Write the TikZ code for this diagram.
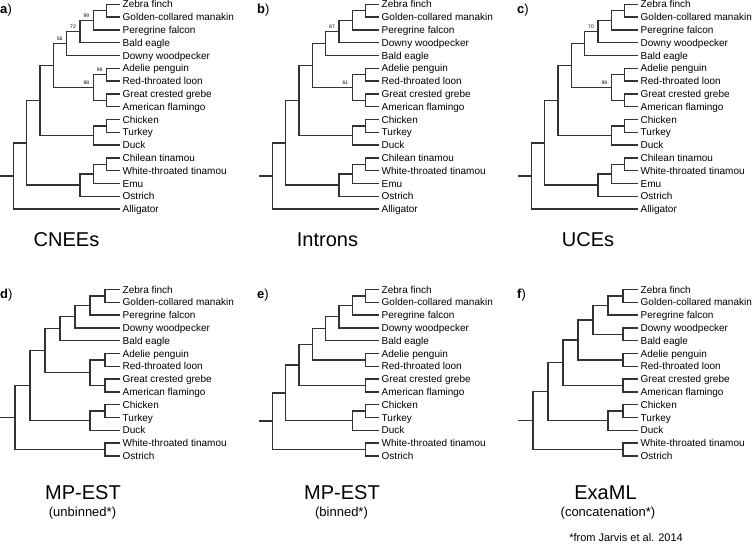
\documentclass[tikz,border=0pt]{standalone}
\usepackage{fontspec}
\setmainfont{Liberation Sans}
\usetikzlibrary{calc}

\tikzset{
  branch/.style={line width=1.4pt, draw=black!80},
  leaf/.style={anchor=west, inner xsep=2.5pt, inner ysep=0pt, text height=7pt, text depth=0pt, font=\fontsize{10}{12}\selectfont},
  boot/.style={anchor=south east, inner sep=0.5pt, font=\fontsize{5}{6}\selectfont},
  plabel/.style={anchor=west, inner sep=0pt, font=\fontsize{13}{15}\selectfont},
  title/.style={inner sep=0pt, font=\fontsize{20}{24}\selectfont},
  subtitle/.style={inner sep=0pt, font=\fontsize{13}{15}\selectfont}
}

% leaf rows: prefix, y of first row, names
\newcommand{\leaves}[3]{%
  \foreach \t [count=\i] in {#3}
    \node[leaf] (#1\i) at ({\xo+120}, {#2+12.8*(\i-1)}) {\t};
}
% clade #1 of height #2 joining #3 and #4
\newcommand{\clade}[4]{%
  \pgfmathsetmacro\cx{\xo+120-#2*\st}
  \path let \p1=($(#3)!.5!(#4)$) in (\cx pt,\y1) coordinate (#1);
  \draw[branch] (#3) -| (#1) |- (#4);
}
\newcommand{\stub}[1]{%
  \path let \p1=(#1) in (\xo pt,\y1) coordinate (#1s);
  \draw[branch] (#1s) -- (#1);
}
\newcommand{\boot}[2]{\node[boot] (#1b) at ([xshift=-3.5pt,yshift=2.5pt]#1) {#2};}

\begin{document}
\begin{tikzpicture}[x=1pt, y=-1pt]
  \useasboundingbox (0,0) rectangle (754,549);

  % a) CNEEs
  \def\xo{0}\def\st{13.333}
  \leaves{a}{4.3}{Zebra finch, Golden-collared manakin, Peregrine falcon, Bald eagle, Downy woodpecker, Adelie penguin, Red-throated loon, Great crested grebe, American flamingo, Chicken, Turkey, Duck, Chilean tinamou, White-throated tinamou, Emu, Ostrich, Alligator}
  \clade{aZG}{1}{a1}{a2}
  \clade{aZP}{2}{aZG}{a3}
  \clade{aZB}{3}{aZP}{a4}
  \clade{aLand}{4}{aZB}{a5}
  \clade{aAR}{1}{a6}{a7}
  \clade{aGA}{1}{a8}{a9}
  \clade{aWat}{2}{aAR}{aGA}
  \clade{aNeoav}{5}{aLand}{aWat}
  \clade{aCT}{1}{a10}{a11}
  \clade{aGal}{2}{aCT}{a12}
  \clade{aNeog}{6}{aNeoav}{aGal}
  \clade{aCW}{1}{a13}{a14}
  \clade{aCWE}{2}{aCW}{a15}
  \clade{aPal}{3}{aCWE}{a16}
  \clade{aAves}{7}{aNeog}{aPal}
  \clade{aRoot}{8}{aAves}{a17}
  \stub{aRoot}
  \boot{aZP}{99} \boot{aZB}{72} \boot{aLand}{56} \boot{aAR}{99} \boot{aWat}{98}
  \node[plabel] (pa) at (0,10) {\textbf{a})};
  \node[title] (ta) at (66.5,239.5) {CNEEs};

  % b) Introns
  \def\xo{259}
  \leaves{b}{4.3}{Zebra finch, Golden-collared manakin, Peregrine falcon, Downy woodpecker, Bald eagle, Adelie penguin, Red-throated loon, Great crested grebe, American flamingo, Chicken, Turkey, Duck, Chilean tinamou, White-throated tinamou, Emu, Ostrich, Alligator}
  \clade{bZG}{1}{b1}{b2}
  \clade{bZP}{2}{bZG}{b3}
  \clade{bZD}{3}{bZP}{b4}
  \clade{bLand}{4}{bZD}{b5}
  \clade{bAR}{1}{b6}{b7}
  \clade{bGA}{1}{b8}{b9}
  \clade{bWat}{2}{bAR}{bGA}
  \clade{bNeoav}{5}{bLand}{bWat}
  \clade{bCT}{1}{b10}{b11}
  \clade{bGal}{2}{bCT}{b12}
  \clade{bNeog}{6}{bNeoav}{bGal}
  \clade{bCW}{1}{b13}{b14}
  \clade{bCWE}{2}{bCW}{b15}
  \clade{bPal}{3}{bCWE}{b16}
  \clade{bAves}{7}{bNeog}{bPal}
  \clade{bRoot}{8}{bAves}{b17}
  \stub{bRoot}
  \boot{bZD}{87} \boot{bWat}{61}
  \node[plabel] (pb) at (257,10) {\textbf{b})};
  \node[title] (tb) at (327.5,239.5) {Introns};

  % c) UCEs
  \def\xo{518}
  \leaves{c}{4.3}{Zebra finch, Golden-collared manakin, Peregrine falcon, Downy woodpecker, Bald eagle, Adelie penguin, Red-throated loon, Great crested grebe, American flamingo, Chicken, Turkey, Duck, Chilean tinamou, White-throated tinamou, Emu, Ostrich, Alligator}
  \clade{cZG}{1}{c1}{c2}
  \clade{cZP}{2}{cZG}{c3}
  \clade{cZD}{3}{cZP}{c4}
  \clade{cLand}{4}{cZD}{c5}
  \clade{cAR}{1}{c6}{c7}
  \clade{cGA}{1}{c8}{c9}
  \clade{cWat}{2}{cAR}{cGA}
  \clade{cNeoav}{5}{cLand}{cWat}
  \clade{cCT}{1}{c10}{c11}
  \clade{cGal}{2}{cCT}{c12}
  \clade{cNeog}{6}{cNeoav}{cGal}
  \clade{cCW}{1}{c13}{c14}
  \clade{cCWE}{2}{cCW}{c15}
  \clade{cPal}{3}{cCWE}{c16}
  \clade{cAves}{7}{cNeog}{cPal}
  \clade{cRoot}{8}{cAves}{c17}
  \stub{cRoot}
  \boot{cZD}{70} \boot{cWat}{99}
  \node[plabel] (pc) at (517,10) {\textbf{c})};
  \node[title] (tc) at (588,239.5) {UCEs};

  % d) MP-EST unbinned
  \def\xo{0}\def\st{15}
  \leaves{d}{289.5}{Zebra finch, Golden-collared manakin, Peregrine falcon, Downy woodpecker, Bald eagle, Adelie penguin, Red-throated loon, Great crested grebe, American flamingo, Chicken, Turkey, Duck, White-throated tinamou, Ostrich}
  \clade{dZG}{1}{d1}{d2}
  \clade{dZP}{2}{dZG}{d3}
  \clade{dZD}{3}{dZP}{d4}
  \clade{dLand}{4}{dZD}{d5}
  \clade{dAR}{1}{d6}{d7}
  \clade{dGA}{1}{d8}{d9}
  \clade{dWat}{2}{dAR}{dGA}
  \clade{dNeoav}{5}{dLand}{dWat}
  \clade{dCT}{1}{d10}{d11}
  \clade{dGal}{2}{dCT}{d12}
  \clade{dNeog}{6}{dNeoav}{dGal}
  \clade{dPal}{1}{d13}{d14}
  \clade{dRoot}{7}{dNeog}{dPal}
  \stub{dRoot}
  \node[plabel] (pd) at (0,295) {\textbf{d})};
  \node[title] (td) at (83,492.5) {MP-EST};
  \node[subtitle] (sd) at (82.5,513.5) {(unbinned*)};

  % e) MP-EST binned
  \def\xo{259}\def\st{13.333}
  \leaves{e}{289.5}{Zebra finch, Golden-collared manakin, Peregrine falcon, Downy woodpecker, Bald eagle, Adelie penguin, Red-throated loon, Great crested grebe, American flamingo, Chicken, Turkey, Duck, White-throated tinamou, Ostrich}
  \clade{eZG}{1}{e1}{e2}
  \clade{eZP}{2}{eZG}{e3}
  \clade{eZD}{3}{eZP}{e4}
  \clade{eLand}{4}{eZD}{e5}
  \clade{eAR}{1}{e6}{e7}
  \clade{eLAR}{5}{eLand}{eAR}
  \clade{eGA}{1}{e8}{e9}
  \clade{eNeoav}{6}{eLAR}{eGA}
  \clade{eCT}{1}{e10}{e11}
  \clade{eGal}{2}{eCT}{e12}
  \clade{eNeog}{7}{eNeoav}{eGal}
  \clade{ePal}{1}{e13}{e14}
  \clade{eRoot}{8}{eNeog}{ePal}
  \stub{eRoot}
  \node[plabel] (pe) at (257,295) {\textbf{e})};
  \node[title] (te) at (342,492.5) {MP-EST};
  \node[subtitle] (se) at (341.5,513.5) {(binned*)};

  % f) ExaML concatenation
  \def\xo{518}\def\st{15}
  \leaves{f}{289.5}{Zebra finch, Golden-collared manakin, Peregrine falcon, Downy woodpecker, Bald eagle, Adelie penguin, Red-throated loon, Great crested grebe, American flamingo, Chicken, Turkey, Duck, White-throated tinamou, Ostrich}
  \clade{fZG}{1}{f1}{f2}
  \clade{fZP}{2}{fZG}{f3}
  \clade{fDB}{1}{f4}{f5}
  \clade{fLand}{3}{fZP}{fDB}
  \clade{fAR}{1}{f6}{f7}
  \clade{fLAR}{4}{fLand}{fAR}
  \clade{fGA}{1}{f8}{f9}
  \clade{fNeoav}{5}{fLAR}{fGA}
  \clade{fCT}{1}{f10}{f11}
  \clade{fGal}{2}{fCT}{f12}
  \clade{fNeog}{6}{fNeoav}{fGal}
  \clade{fPal}{1}{f13}{f14}
  \clade{fRoot}{7}{fNeog}{fPal}
  \stub{fRoot}
  \node[plabel] (pf) at (517,295) {\textbf{f})};
  \node[title] (tf) at (605.5,492.5) {ExaML};
  \node[subtitle] (sf) at (608,513.5) {(concatenation*)};

  \node[anchor=east, inner sep=0pt, font=\fontsize{11}{13}\selectfont] (note) at (683,538) {*from Jarvis et al. 2014};
\end{tikzpicture}
\end{document}
